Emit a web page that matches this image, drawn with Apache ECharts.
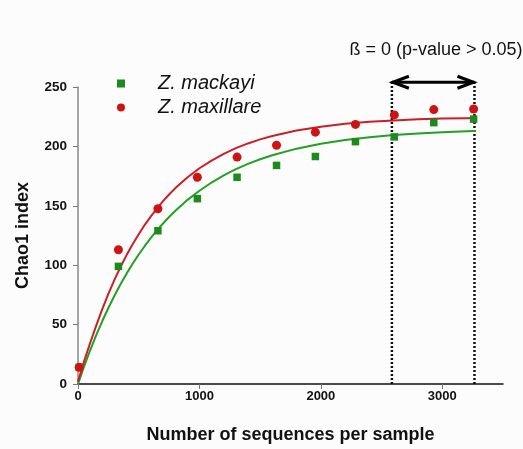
<!DOCTYPE html>
<html>
<head>
<meta charset="utf-8">
<script src="https://cdn.jsdelivr.net/npm/echarts@6/dist/echarts.min.js"></script>
<style>
html,body{margin:0;padding:0;background:#fcfcfc;}
#c{width:523px;height:449px;}
</style>
</head>
<body>
<div id="c"></div>
<script>
// ---- data ----
const sampleX = [10, 333, 658, 983, 1310, 1635, 1955, 2285, 2605, 2930, 3258];
const mackayi = [14, 99, 129, 156, 174, 184, 191.5, 204, 208, 220, 223];
const maxillare = [14, 113, 147.5, 174, 191, 201, 212, 218.5, 226.5, 231, 231.5];

const curveX = [0, 50, 100, 150, 200, 250, 300, 350, 400, 450, 500, 550, 600, 650, 700, 750, 800, 900, 1000, 1100, 1200, 1300, 1400, 1500, 1600, 1800, 2000, 2200, 2400, 2600, 2800, 3000, 3200, 3275];
const mackayiFit = [0, 14.7, 28.4, 41.1, 53, 64, 74.3, 83.9, 92.9, 101.2, 109, 116.2, 123, 129.3, 135.1, 140.6, 145.6, 154.8, 162.7, 169.6, 175.6, 180.8, 185.3, 189.2, 192.6, 198.1, 202.3, 205.4, 207.8, 209.6, 210.9, 211.9, 212.7, 212.9];
const maxillareFit = [2, 19, 34.5, 49.2, 63, 75.8, 87.6, 98.5, 108.5, 117.7, 126.1, 134, 141.1, 147.7, 153.9, 159.5, 164.7, 173.8, 181.6, 188.1, 193.7, 198.5, 202.5, 205.9, 208.8, 213.3, 216.6, 219, 220.7, 221.9, 222.8, 223.4, 223.8, 223.9];

const xTicks = [0, 1000, 2000, 3000];
const yTicks = [0, 50, 100, 150, 200, 250];
const plateauX = [2585, 3265];
const plateauTop = 254;
const annotation = 'ß = 0 (p-value > 0.05)';
const seriesNames = ['Z. mackayi', 'Z. maxillare'];

const FONT = 'Arial, "Liberation Sans", sans-serif';
const GREEN = '#1d8a1d';
const GREEN_LINE = '#23a023';
const RED = '#cc1414';
const RED_LINE = '#cc1f25';

const zip = (xs, ys) => xs.map((x, i) => [x, ys[i]]);

const chart = echarts.init(document.getElementById('c'), null, {renderer: 'canvas'});
const option = {
  backgroundColor: '#fcfcfc',
  animation: false,
  grid: {left: 78, right: 20, top: 87, bottom: 64},
  legend: {
    data: seriesNames,
    orient: 'vertical',
    left: 112,
    top: 68,
    itemWidth: 8,
    itemHeight: 8,
    itemGap: 3,
    textStyle: {fontFamily: FONT, fontSize: 20, fontStyle: 'italic', color: '#111', padding: [0, 0, 0, 28], lineHeight: 21}
  },
  xAxis: {
    type: 'value', min: 0, max: 3500, interval: 1000,
    name: 'Number of sequences per sample', nameLocation: 'middle', nameGap: 42,
    nameTextStyle: {fontFamily: FONT, fontSize: 18, fontWeight: 'bold', color: '#111'},
    axisLine: {show: true, lineStyle: {color: '#111', width: 1.5}},
    axisTick: {show: true, length: 5, lineStyle: {color: '#777'}, customValues: xTicks},
    axisLabel: {fontFamily: FONT, fontSize: 13, fontWeight: 'bold', color: '#111', margin: 6,
                customValues: xTicks, formatter: v => String(v)},
    splitLine: {show: false}
  },
  yAxis: {
    type: 'value', min: 0, max: 250, interval: 50,
    name: 'Chao1 index', nameLocation: 'middle', nameGap: 46, nameRotate: 90,
    nameTextStyle: {fontFamily: FONT, fontSize: 18, fontWeight: 'bold', color: '#111'},
    axisLine: {show: true, lineStyle: {color: '#888', width: 1.5}},
    axisTick: {show: true, length: 5, lineStyle: {color: '#777'}},
    axisLabel: {fontFamily: FONT, fontSize: 13.5, fontWeight: 'bold', color: '#111', margin: 11, formatter: v => String(v)},
    splitLine: {show: false}
  },
  series: [
    {type: 'line', data: zip(curveX, mackayiFit), smooth: false, symbol: 'none',
     lineStyle: {color: GREEN_LINE, width: 2, join: 'round'}, z: 2, silent: true},
    {type: 'line', data: zip(curveX, maxillareFit), smooth: false, symbol: 'none',
     lineStyle: {color: RED_LINE, width: 2, join: 'round'}, z: 2, silent: true},
    {type: 'line', data: [[plateauX[0], 0], [plateauX[0], plateauTop]], symbol: 'none', clip: false,
     lineStyle: {color: '#111', width: 2.5, type: [2, 2]}, z: 1},
    {type: 'line', data: [[plateauX[1], 0], [plateauX[1], plateauTop]], symbol: 'none', clip: false,
     lineStyle: {color: '#111', width: 2.5, type: [2, 2]}, z: 1},
    {type: 'line', data: [[plateauX[0], plateauTop], [plateauX[1], plateauTop]], symbol: 'none', clip: false,
     lineStyle: {color: '#000', width: 3}, z: 3},
    {name: seriesNames[0], type: 'scatter', symbol: 'rect', symbolSize: 7.5,
     data: zip(sampleX, mackayi), itemStyle: {color: GREEN, opacity: 1}, z: 4},
    {name: seriesNames[1], type: 'scatter', symbol: 'circle', symbolSize: 9,
     data: zip(sampleX, maxillare), itemStyle: {color: RED, opacity: 1}, z: 5}
  ]
};
chart.setOption(option);

// arrow heads and annotation text, positioned through the axes
const pL = chart.convertToPixel({gridIndex: 0}, [plateauX[0], plateauTop]);
const pR = chart.convertToPixel({gridIndex: 0}, [plateauX[1], plateauTop]);
const headLen = 17, headHalf = 6;
chart.setOption({
  graphic: [
    {type: 'polyline', z: 10, shape: {points: [[pL[0] + headLen, pL[1] - headHalf], [pL[0] + 1, pL[1]], [pL[0] + headLen, pL[1] + headHalf]]},
     style: {stroke: '#000', lineWidth: 3, fill: null, lineJoin: 'miter'}},
    {type: 'polyline', z: 10, shape: {points: [[pR[0] - headLen, pR[1] - headHalf], [pR[0] - 1, pR[1]], [pR[0] - headLen, pR[1] + headHalf]]},
     style: {stroke: '#000', lineWidth: 3, fill: null, lineJoin: 'miter'}},
    {type: 'text', z: 10, x: 436, y: 50,
     style: {text: annotation, fontFamily: FONT, fontSize: 18, fill: '#111', align: 'center', verticalAlign: 'middle'}}
  ]
});
</script>
</body>
</html>
